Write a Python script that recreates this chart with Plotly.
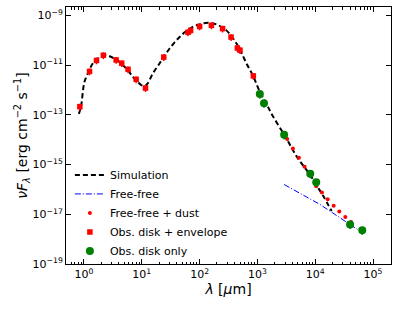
import plotly.graph_objects as go

# ---------------- data ----------------
# Simulation SED (black dashed curve)
sim_lam = [0.818, 0.893, 1.02, 1.20, 1.42, 1.71, 2.12, 2.55, 2.96, 3.66, 4.70, 5.74,
           7.01, 8.13, 9.8, 11.2, 12.6, 15.6, 20.3, 24.8, 30.3, 37.0, 45.2, 55.2,
           67.5, 82.2, 100, 118, 140, 162, 195, 239, 291, 353, 435, 530, 647, 841,
           1100, 1440, 1870, 2790, 3650, 4760, 6190, 8090, 10570, 13770, 19230]
sim_flux = [1.10e-13, 2.29e-13, 2.09e-12, 5.25e-12, 1.17e-11, 1.82e-11, 2.40e-11, 2.45e-11,
            2.14e-11, 1.66e-11, 1.0e-11, 6.3e-12, 3.39e-12, 2.40e-12, 1.58e-12, 1.45e-12,
            1.82e-12, 4.68e-12, 1.17e-11, 2.40e-11, 4.68e-11, 8.3e-11, 1.35e-10, 2.09e-10,
            2.95e-10, 3.80e-10, 4.37e-10, 4.90e-10, 5.13e-10, 4.90e-10, 4.37e-10, 3.47e-10,
            2.51e-10, 1.51e-10, 7.4e-11, 3.16e-11, 1.17e-11, 3.72e-12, 8.5e-13, 2.69e-13,
            8.5e-14, 1.86e-14, 6.3e-15, 2.14e-15, 9.1e-16, 3.98e-16, 1.45e-16, 5.4e-17, 1.35e-17]

# Free-free (blue dash-dot)
ff_lam = [2900, 12050, 59500]
ff_flux = [1.58e-16, 2.5e-17, 2.1e-18]

# Free-free + dust (small red dots)
ffd_lam = [3273, 4111, 5224, 6546, 8222, 10400, 13060, 16410, 20840, 26060, 33110, 41590]
ffd_flux = [1.07e-14, 4.4e-15, 1.9e-15, 8.1e-16, 3.6e-16, 1.35e-16, 7.6e-17, 4.0e-17,
            2.2e-17, 1.3e-17, 7.8e-18, 4.9e-18]

# Observations: disk + envelope (red squares)
env_lam = [0.85, 1.25, 1.65, 2.17, 3.6, 4.5, 5.8, 8.0, 11.6, 24, 63, 70, 100, 160,
           250, 350, 450, 500, 850]
env_flux = [2.14e-13, 5.6e-12, 1.55e-11, 2.5e-11, 1.62e-11, 1.2e-11, 6.8e-12, 2.7e-12,
            1.2e-12, 2.1e-11, 2.1e-10, 2.5e-10, 3.6e-10, 4.0e-10, 2.95e-10, 1.35e-10,
            4.9e-11, 4.0e-11, 3.7e-12]

# Observations: disk only (green circles)
disk_lam = [1100, 1300, 2900, 8200, 10400, 40000, 65000]
disk_flux = [6.9e-13, 2.95e-13, 1.58e-14, 4.3e-16, 1.95e-16, 3.9e-18, 2.3e-18]

# Ticks
x_tickvals = [1, 10, 100, 1e3, 1e4, 1e5]
x_ticktext = ["10<sup>0</sup>", "10<sup>1</sup>", "10<sup>2</sup>", "10<sup>3</sup>",
              "10<sup>4</sup>", "10<sup>5</sup>"]
y_tickvals = [1e-19, 1e-17, 1e-15, 1e-13, 1e-11, 1e-9]
y_ticktext = ["10<sup>−19</sup>", "10<sup>−17</sup>", "10<sup>−15</sup>",
              "10<sup>−13</sup>", "10<sup>−11</sup>", "10<sup>−9</sup>"]

FONT = "DejaVu Sans"

fig = go.Figure()
fig.add_trace(go.Scatter(x=sim_lam, y=sim_flux, mode="lines", name="Simulation",
                         line=dict(color="black", width=2, dash="5px,3px", shape="spline")))
fig.add_trace(go.Scatter(x=ff_lam, y=ff_flux, mode="lines", name="Free-free",
                         line=dict(color="#0000ff", width=1, dash="6px,2px,1px,2px")))
fig.add_trace(go.Scatter(x=ffd_lam, y=ffd_flux, mode="markers", name="Free-free + dust",
                         marker=dict(color="#ff0000", size=4, symbol="circle")))
fig.add_trace(go.Scatter(x=env_lam, y=env_flux, mode="markers", name="Obs. disk + envelope",
                         marker=dict(color="#ff0000", size=5.5, symbol="square"),
                         error_y=dict(type="percent", value=30, color="#ff0000",
                                      thickness=1.5, width=0)))
fig.add_trace(go.Scatter(x=disk_lam, y=disk_flux, mode="markers", name="Obs. disk only",
                         marker=dict(color="#008000", size=8, symbol="circle"),
                         error_y=dict(type="percent", value=35, color="#008000",
                                      thickness=1.5, width=0)))

minor_x = [m * 10 ** e for e in range(-1, 6) for m in range(2, 10)]

fig.update_layout(
    width=399, height=310,
    margin=dict(l=66, r=8, t=7, b=46),
    paper_bgcolor="white", plot_bgcolor="white",
    font=dict(family=FONT, size=11, color="black"),
    showlegend=True,
    legend=dict(x=0.012, y=0.403, xanchor="left", yanchor="top",
                bgcolor="rgba(0,0,0,0)", font=dict(size=11, family=FONT),
                tracegroupgap=0),
    xaxis=dict(type="log", range=[-0.31, 5.31], automargin=False,
               tickmode="array", tickvals=x_tickvals, ticktext=x_ticktext,
               ticks="inside", ticklen=5, tickwidth=1, tickcolor="black",
               showline=True, linecolor="black", linewidth=1, mirror="allticks",
               showgrid=False, zeroline=False,
               tickfont=dict(size=11, family=FONT),
               minor=dict(tickmode="array", tickvals=minor_x, ticks="inside",
                          ticklen=2.5, tickwidth=0.8, tickcolor="black", showgrid=False),
               title=dict(text="<i>λ</i> [<i>μ</i>m]", font=dict(size=14, family=FONT),
                          standoff=2)),
    yaxis=dict(type="log", range=[-19, -8.66], automargin=False,
               tickmode="array", tickvals=y_tickvals, ticktext=y_ticktext,
               ticks="inside", ticklen=5, tickwidth=1, tickcolor="black",
               showline=True, linecolor="black", linewidth=1, mirror="allticks",
               showgrid=False, zeroline=False,
               tickfont=dict(size=11, family=FONT),
               title=dict(text="<i>νF</i><sub><i>λ</i></sub> [erg cm<sup>−2</sup> s<sup>−1</sup>]",
                          font=dict(size=14, family=FONT), standoff=1)),
)

fig.write_html("out.html", config={"displayModeBar": False},
               post_script="document.body.style.margin='0';")
